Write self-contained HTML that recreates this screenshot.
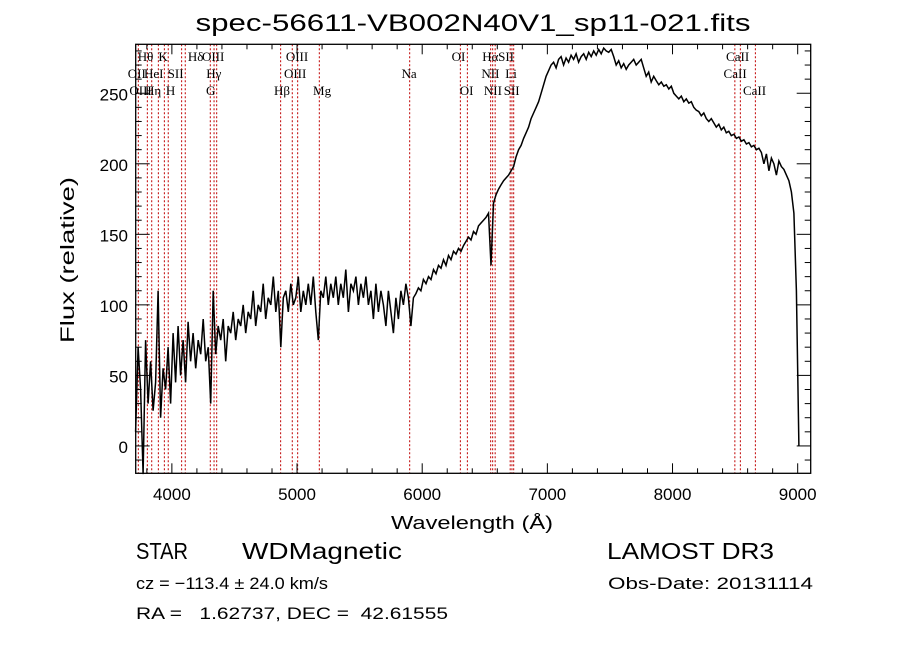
<!DOCTYPE html>
<html><head><meta charset="utf-8"><style>
html,body{margin:0;padding:0;background:#fff;}
svg{display:block;font-family:"Liberation Sans",sans-serif;}
.lab{font-family:"Liberation Serif",serif;font-size:13px;fill:#000;}
</style></head><body>
<svg id="chart" width="900" height="649" viewBox="0 0 900 649" xmlns="http://www.w3.org/2000/svg">
<rect x="0" y="0" width="900" height="649" fill="#fff"/>
<text x="473" y="31" font-size="24" textLength="555" lengthAdjust="spacingAndGlyphs" text-anchor="middle">spec-56611-VB002N40V1_sp11-021.fits</text>
<g id="lines"></g>
<g id="labels"></g>
<g id="spec"></g>
<g id="axes"></g>
<text x="472" y="529" font-size="18" textLength="162" lengthAdjust="spacingAndGlyphs" text-anchor="middle">Wavelength (Å)</text>
<text transform="translate(74,260) rotate(-90)" font-size="19" textLength="166" lengthAdjust="spacingAndGlyphs" text-anchor="middle">Flux (relative)</text>
<text x="136" y="559" font-size="23" textLength="52" lengthAdjust="spacingAndGlyphs">STAR</text>
<text x="242" y="559" font-size="23" textLength="160" lengthAdjust="spacingAndGlyphs">WDMagnetic</text>
<text x="607" y="559" font-size="23" textLength="167" lengthAdjust="spacingAndGlyphs">LAMOST DR3</text>
<text x="136" y="589" font-size="17" textLength="192" lengthAdjust="spacingAndGlyphs">cz = −113.4 ± 24.0 km/s</text>
<text x="608" y="589" font-size="17" textLength="205" lengthAdjust="spacingAndGlyphs">Obs-Date: 20131114</text>
<text x="136" y="619" font-size="17" textLength="312" lengthAdjust="spacingAndGlyphs" xml:space="preserve">RA =   1.62737, DEC =  42.61555</text>
</svg>
<script>
const startWave = 3710;
const stepWave = 20;
const fluxValues = [
10,70,40,-20,75,30,60,25,45,110,
20,55,40,70,30,80,45,85,50,75,
45,88,60,80,55,75,65,90,60,70,
30,110,65,85,75,90,60,85,80,95,
75,90,85,100,80,95,90,110,85,100,
95,115,90,105,100,120,95,110,70,105,
110,95,115,100,105,120,95,110,100,115,
100,120,95,75,110,105,120,100,115,105,
120,100,115,105,125,95,115,110,120,100,
115,105,120,100,110,90,115,95,110,100,
85,110,95,80,105,90,110,100,115,105,
85,105,108,112,110,118,115,120,118,125,
122,128,126,132,128,135,132,138,136,140,
138,142,145,148,146,152,150,156,158,160,
162,165,128,172,178,182,185,188,190,192,
195,198,205,210,213,218,222,226,232,236,
240,244,250,256,262,266,270,272,268,274,
276,270,275,272,277,274,278,272,276,278,
274,279,276,280,277,281,278,282,280,279,
281,276,270,273,268,271,267,270,272,274,
270,272,274,268,262,265,258,262,259,256,
258,255,256,253,255,250,248,246,248,244,
246,243,244,240,238,237,234,236,232,230,
232,229,226,228,224,226,222,223,220,221,
218,219,216,217,214,215,212,213,210,211,
208,200,207,195,204,200,192,202,198,196,
192,188,180,165,110,0
];
const lineWaves = [3732,3804,3839,3892,3940,3971,4078,4107,4307,4337,4358,4869,4962,5005,5178,5900,6305,6361,6547,6563,6583,6703,6717,6731,8498,8542,8662];
const labelTexts = ["Hθ","K","Hδ","OIII","OIII","OI","Hα","SII","CaII",
                    "OII","HeI","SII","Hγ","OIII","Na","NII","Li","CaII",
                    "OIII","Hη","H","G","Hβ","Mg","OI","NII","SII","CaII"];
const labelWaves = [3790,3930,4190,4330,5000,6290,6545,6670,8520,
                    3720,3855,4030,4335,4985,5895,6545,6710,8500,
                    3750,3850,3990,4310,4880,5200,6355,6565,6715,8655];
const labelRows = [0,0,0,0,0,0,0,0,0, 1,1,1,1,1,1,1,1,1, 2,2,2,2,2,2,2,2,2,2];
const xTicks = [4000,5000,6000,7000,8000,9000];
const yTicks = [0,50,100,150,200,250];

const L=135.7,R=810.7,T=44.3,B=473.3, X0=3711, X1=9104, Y0=-19.4, Y1=284.7;
const sx = w => L + (w - X0) / (X1 - X0) * (R - L);
const sy = f => B - (f - Y0) / (Y1 - Y0) * (B - T);
const NS="http://www.w3.org/2000/svg";
function mk(tag, attrs, parent){const e=document.createElementNS(NS,tag);for(const k in attrs)e.setAttribute(k,attrs[k]);parent.appendChild(e);return e;}

const gl=document.getElementById('lines');
lineWaves.forEach(w=>{
  const e=mk('line',{x1:sx(w),x2:sx(w),y1:T,y2:B,stroke:'#c00000','stroke-width':1,'stroke-dasharray':'2,2'},gl);
  
  
});
const glab=document.getElementById('labels');
const rowY=[61,78,95];
labelTexts.forEach((t,i)=>{
  const e=mk('text',{x:sx(labelWaves[i]),y:rowY[labelRows[i]],'text-anchor':'middle',class:'lab'},glab);
  e.textContent=t;
  
  
});
const gs=document.getElementById('spec');
let d='';
fluxValues.forEach((f,i)=>{const w=startWave+i*stepWave;d+=(i?'L':'M')+sx(w).toFixed(1)+','+sy(f).toFixed(1);});
const p=mk('path',{d:d,fill:'none',stroke:'#000','stroke-width':1.5},gs);



const ga=document.getElementById('axes');
const fr=mk('rect',{x:L,y:T,width:R-L,height:B-T,fill:'none',stroke:'#000','stroke-width':1.3},ga);


for(let w=3800;w<=X1;w+=200){
  const major=w%1000===0, len=major?10:5;
  mk('line',{x1:sx(w),x2:sx(w),y1:B,y2:B-len,stroke:'#000'},ga);
  mk('line',{x1:sx(w),x2:sx(w),y1:T,y2:T+len,stroke:'#000'},ga);
}
for(let f=-10;f<=Y1;f+=10){
  const major=f%50===0, len=major?14:6;
  mk('line',{x1:L,x2:L+len,y1:sy(f),y2:sy(f),stroke:'#000'},ga);
  mk('line',{x1:R,x2:R-len,y1:sy(f),y2:sy(f),stroke:'#000'},ga);
}
xTicks.forEach(w=>{
  const e=mk('text',{x:sx(w),y:500,'font-size':17,'text-anchor':'middle'},ga);
  e.textContent=w;
  
  
});
yTicks.forEach(f=>{
  const e=mk('text',{x:128,y:sy(f)+7,'font-size':17,'text-anchor':'end'},ga);
  e.textContent=f;
  
  
});
</script>
</body></html>
